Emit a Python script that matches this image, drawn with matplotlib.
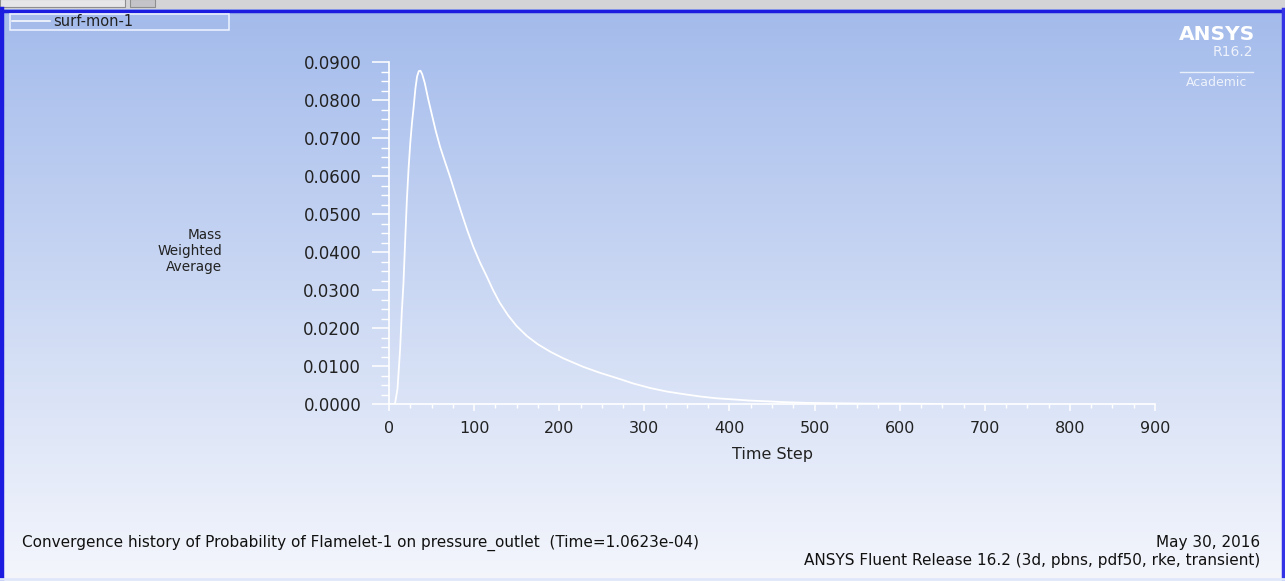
import numpy as np
import matplotlib
matplotlib.use("Agg")
import matplotlib.pyplot as plt
from matplotlib.patches import Rectangle
from matplotlib.ticker import MultipleLocator, FormatStrFormatter

# ---- data ----
time_step = [1, 7, 10, 13, 15, 17, 19, 21, 23, 25, 27, 29, 31, 33, 35, 37, 39,
             42, 46, 50, 55, 60, 66, 72, 78, 85, 92, 99, 107, 115, 122, 130,
             140, 150, 162, 175, 190, 205, 228, 248, 268, 287, 307, 326, 346,
             365, 385, 405, 424, 445, 463, 490, 520, 560, 600, 650]
mass_weighted_avg = [0.0, 0.0, 0.0040, 0.0142, 0.0240, 0.0318, 0.0430, 0.0537,
                     0.0620, 0.0687, 0.0740, 0.0782, 0.0830, 0.0862, 0.0876,
                     0.0877, 0.0868, 0.0845, 0.0803, 0.0765, 0.0718, 0.0677,
                     0.0636, 0.0596, 0.0553, 0.0504, 0.0457, 0.0414, 0.0372,
                     0.0335, 0.0301, 0.0267, 0.0233, 0.0205, 0.0179, 0.0157,
                     0.0137, 0.0120, 0.0098, 0.0082, 0.0068, 0.0054, 0.0042,
                     0.0033, 0.0026, 0.0020, 0.0015, 0.0012, 0.0009, 0.0007,
                     0.0005, 0.0003, 0.0002, 0.0001, 0.0001, 0.0]
series_name = "surf-mon-1"
x_label = "Time Step"
y_label = "Mass\nWeighted\nAverage"
footer_left = "Convergence history of Probability of Flamelet-1 on pressure_outlet  (Time=1.0623e-04)"
footer_right_1 = "May 30, 2016"
footer_right_2 = "ANSYS Fluent Release 16.2 (3d, pbns, pdf50, rke, transient)"

W, H = 1285, 581
plt.rcParams['font.family'] = ['DejaVu Sans']
fig = plt.figure(figsize=(W / 100, H / 100), dpi=100)

# ---- background (pixel coordinates) ----
bg = fig.add_axes([0, 0, 1, 1])
bg.set_xlim(0, W)
bg.set_ylim(H, 0)
bg.axis('off')
top = np.array([0xa2, 0xba, 0xeb]) / 255
bot = np.array([0xf4, 0xf6, 0xfc]) / 255
t = np.linspace(0, 1, 256)[:, None, None]
grad = top * (1 - t) + bot * t
bg.imshow(grad, extent=[0, W, H, 0], aspect='auto', interpolation='bilinear', zorder=0)
# top grey strip
bg.add_patch(Rectangle((0, 0), W, 8.5, facecolor='#d4d4d6', edgecolor='none', zorder=1))
bg.add_patch(Rectangle((0, -1), 125, 8, facecolor='#e6e6e8', edgecolor='#8e8e8e', lw=0.8, zorder=1))
bg.add_patch(Rectangle((130, -1), 25, 8, facecolor='#c4c4c8', edgecolor='#8e8e8e', lw=0.8, zorder=1))
# blue frame
bg.plot([0, W], [10.5, 10.5], color='#1c1ce0', lw=2.5, zorder=2)
bg.plot([2, 2], [9, H], color='#1c1ce0', lw=3.2, zorder=2)
bg.plot([W - 2.5, W - 2.5], [9, H], color='#3434e6', lw=2.5, zorder=2)
bg.plot([0, W], [H - 2, H - 2], color='#dfe8fa', lw=2, zorder=2)

# legend box
bg.add_patch(Rectangle((10, 13.5), 219, 16, facecolor='none', edgecolor='#eef3ff', lw=1.1, zorder=3))
bg.plot([12, 50], [21, 21], color='white', lw=1.1, zorder=3)
bg.text(53, 21, series_name, fontsize=10.5, color='#222222', va='center', ha='left', zorder=3)

# ANSYS logo
bg.text(1255, 34, "ANSYS", fontsize=14.5, fontweight='bold', color='white', ha='right', va='center', zorder=3)
bg.text(1253, 52, "R16.2", fontsize=10, color='#eef2fb', ha='right', va='center', zorder=3)
bg.plot([1180, 1253], [72, 72], color='#e8eefa', lw=1, zorder=3)
bg.text(1217, 82, "Academic", fontsize=9, color='#eef2fb', ha='center', va='center', zorder=3)

# y label & footers
bg.text(222, 251, y_label, fontsize=9.8, color='#222222', ha='right', va='center',
        multialignment='right', linespacing=1.2, zorder=3)
bg.text(22, 543, footer_left, fontsize=11, color='#111111', ha='left', va='center', zorder=3)
bg.text(1260, 543, footer_right_1, fontsize=11, color='#111111', ha='right', va='center', zorder=3)
bg.text(1260, 561, footer_right_2, fontsize=11, color='#111111', ha='right', va='center', zorder=3)

# ---- main axes ----
x0, x1 = 389, 1155
y0, y1 = 404, 62
ax = fig.add_axes([x0 / W, (H - y0) / H, (x1 - x0) / W, (y0 - y1) / H], zorder=5)
ax.patch.set_alpha(0)
ax.plot(time_step, mass_weighted_avg, color='white', lw=1.3, solid_joinstyle='round')
ax.set_xlim(0, 900)
ax.set_ylim(0, 0.09)
for s in ['top', 'right']:
    ax.spines[s].set_visible(False)
for s in ['left', 'bottom']:
    ax.spines[s].set_color('white')
    ax.spines[s].set_linewidth(1.2)
ax.xaxis.set_major_locator(MultipleLocator(100))
ax.xaxis.set_minor_locator(MultipleLocator(25))
ax.yaxis.set_major_locator(MultipleLocator(0.01))
ax.yaxis.set_minor_locator(MultipleLocator(0.0025))
ax.yaxis.set_major_formatter(FormatStrFormatter('%.4f'))
ax.tick_params(axis='y', which='major', direction='out', length=12, width=1.1,
               color='white', labelcolor='#222222', labelsize=12, pad=8)
ax.tick_params(axis='y', which='minor', direction='out', length=6, width=1.0, color='white')
ax.tick_params(axis='x', which='major', direction='out', length=5, width=1.1,
               color='white', labelcolor='#222222', labelsize=11.5, pad=7)
ax.tick_params(axis='x', which='minor', direction='out', length=3, width=1.0, color='white')
ax.set_xlabel(x_label, fontsize=11.5, color='#222222', labelpad=8)

fig.savefig('out.png', dpi=100)
